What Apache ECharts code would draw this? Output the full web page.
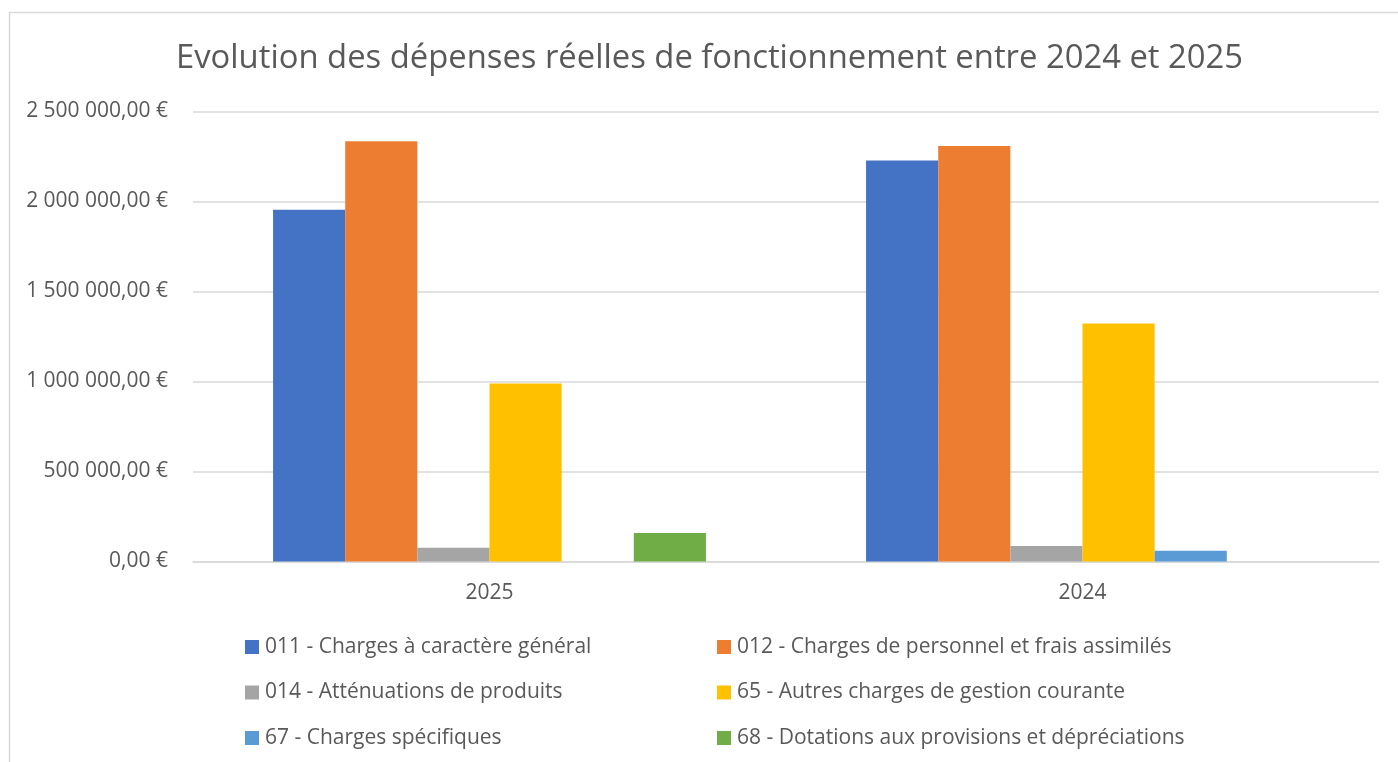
<!DOCTYPE html>
<html>
<head>
<meta charset="utf-8">
<script src="https://cdn.jsdelivr.net/npm/echarts@6/dist/echarts.min.js"></script>
<style>
html,body{margin:0;padding:0;background:#fff;}
#chart{width:1398px;height:762px;}
</style>
</head>
<body>
<div id="chart"></div>
<script>
const categories = ['2025', '2024'];
const seriesNames = [
  '011 - Charges à caractère général',
  '012 - Charges de personnel et frais assimilés',
  '014 - Atténuations de produits',
  '65 - Autres charges de gestion courante',
  '67 - Charges spécifiques',
  '68 - Dotations aux provisions et dépréciations'
];
const s011 = [1954000, 2228000];
const s012 = [2335000, 2308000];
const s014 = [76000, 85500];
const s65 = [989000, 1322000];
const s67 = [0, 59500];
const s68 = [159000, 0];
const seriesValues = [s011, s012, s014, s65, s67, s68];
const colors = ['#4472C4', '#ED7D31', '#A5A5A5', '#FFC000', '#5B9BD5', '#70AD47'];

const FONT = 'Open Sans';
const TXT = '#595959';

function fmt(v) {
  const s = Math.round(v).toString().replace(/\B(?=(\d{3})+(?!\d))/g, ' ');
  return s + ',00 €';
}

const chart = echarts.init(document.getElementById('chart'));
chart.setOption({
  animation: false,
  color: colors,
  textStyle: { fontFamily: FONT },
  graphic: [{
    type: 'rect',
    shape: { x: 9.5, y: 12.5, width: 1400, height: 800 },
    style: { fill: 'none', stroke: '#D9D9D9', lineWidth: 1.5 },
    silent: true,
    z: -10
  }],
  title: {
    text: 'Evolution des dépenses réelles de fonctionnement entre 2024 et 2025',
    left: 176,
    top: 42,
    padding: 0,
    textStyle: { fontFamily: FONT, fontSize: 32.8, fontWeight: 'normal', color: TXT }
  },
  grid: { left: 193, right: 19, top: 111.5, bottom: 200.5, containLabel: false },
  xAxis: {
    type: 'category',
    data: categories,
    axisLine: { lineStyle: { color: '#D9D9D9', width: 1.5 } },
    axisTick: { show: false },
    axisLabel: { color: TXT, fontSize: 21, margin: 21, fontFamily: FONT }
  },
  yAxis: {
    type: 'value',
    min: 0,
    max: 2500000,
    interval: 500000,
    axisLine: { show: false },
    axisTick: { show: false },
    splitLine: { lineStyle: { color: '#D9D9D9', width: 1.5 } },
    axisLabel: { color: TXT, fontSize: 21, margin: 25, fontFamily: FONT, formatter: fmt }
  },
  legend: [
    {
      orient: 'vertical', left: 245, top: 635, padding: 0,
      itemWidth: 14, itemHeight: 14, itemGap: 21.5,
      icon: 'rect',
      data: [seriesNames[0], seriesNames[2], seriesNames[4]],
      textStyle: { color: TXT, fontSize: 21, lineHeight: 24, fontFamily: FONT, padding: [0, 0, 0, 1] }
    },
    {
      orient: 'vertical', left: 717, top: 635, padding: 0,
      itemWidth: 14, itemHeight: 14, itemGap: 21.5,
      icon: 'rect',
      data: [seriesNames[1], seriesNames[3], seriesNames[5]],
      textStyle: { color: TXT, fontSize: 21, lineHeight: 24, fontFamily: FONT, padding: [0, 0, 0, 1] }
    }
  ],
  series: seriesNames.map((n, i) => ({
    name: n,
    type: 'bar',
    data: seriesValues[i],
    barGap: '0%',
    barCategoryGap: '27%',
    itemStyle: { color: colors[i] }
  }))
});
</script>
</body>
</html>
